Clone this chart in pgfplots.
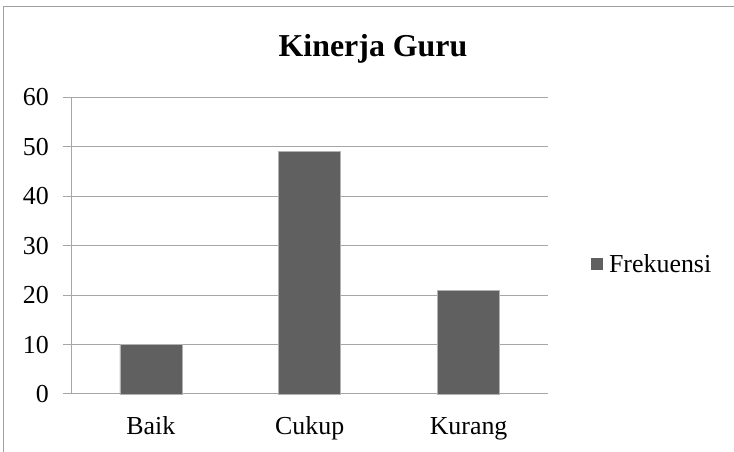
\documentclass[border=0pt]{standalone}
\usepackage{pgfplots}
\pgfplotsset{compat=1.18}
\usepackage{fontspec}
\setmainfont{Liberation Serif}
\definecolor{barc}{HTML}{606060}
\definecolor{gridc}{HTML}{A6A6A6}
\definecolor{framec}{HTML}{A0A0A0}
\begin{document}
\begin{tikzpicture}[x=1bp,y=1bp]
\useasboundingbox (0,0) rectangle (734,452);
\draw[framec, line width=1bp] (3.5,0) -- (3.5,445) -- (734,445);
\node[anchor=base, font=\fontsize{32}{36}\selectfont\bfseries] at (373,395) {Kinerja Guru};
\begin{axis}[
  at={(71.5bp,58bp)}, anchor=south west,
  scale only axis, width=476.5bp, height=296.7bp,
  xmin=-0.5, xmax=2.5, ymin=0, ymax=60,
  axis x line=bottom, axis y line=left,
  axis line style={-, gridc, line width=1bp},
  xtick={0,1,2}, xticklabels={Baik,Cukup,Kurang},
  x tick style={draw=none},
  extra x ticks={0.5,1.5,2.5}, extra x tick labels={},
  extra x tick style={tick style={draw=gridc, line width=1bp}, major tick length=6.5bp, tick align=outside, grid=none},
  ytick={0,10,...,60},
  y tick style={draw=gridc, line width=1bp},
  major tick length=9bp, tick align=outside,
  ymajorgrids, grid style={gridc, line width=1bp},
  /pgf/number format/assume math mode=true,
  ticklabel style={font=\fontsize{26}{30}\selectfont},
  yticklabel style={anchor=east, inner sep=0pt, xshift=-13.5bp},
  xticklabel style={anchor=north, inner sep=0pt, text height=17.8bp, text depth=0pt, yshift=-14bp},
  ybar, bar width=62bp,
  legend style={at={(1.09,0.438)}, anchor=west, draw=none, fill=none, inner sep=0pt,
    font=\fontsize{26}{30}\selectfont, legend cell align=left},
  legend image code/.code={\fill[barc, draw=none] (0bp,-6bp) rectangle (12bp,6bp); \path[draw=none, fill=none] (12bp,0) -- (16bp,0);},
  clip=false,
]
\addplot[fill=barc, draw=gray!60, line width=0.8bp] coordinates {(0,10) (1,49) (2,21)};
\addlegendentry{Frekuensi}
\end{axis}
\end{tikzpicture}
\end{document}
